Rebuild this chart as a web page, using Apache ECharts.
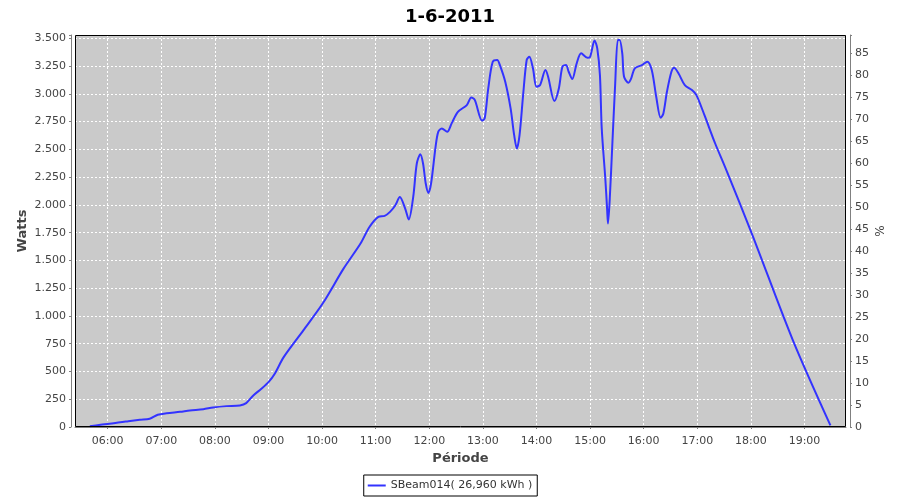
<!DOCTYPE html>
<html><head><meta charset="utf-8">
<script src="https://cdn.jsdelivr.net/npm/echarts@6/dist/echarts.min.js"></script>
<style>html,body{margin:0;padding:0;background:#fff}#c{width:900px;height:500px}</style>
</head><body><div id="c"></div>
<script>
// ---- data ----
const chartTitle = '1-6-2011';
const seriesName = 'SBeam014( 26,960 kWh )';
const times = ['05:40','05:52','06:02','06:14','06:23','06:36','06:47','06:56','07:06','07:21','07:32','07:47','07:58','08:13','08:28','08:35','08:43','08:52','09:00','09:07','09:17','09:39','10:01','10:24','10:43','10:53','11:03','11:10','11:16','11:22','11:27','11:33','11:37','11:42','11:46','11:50','11:53','11:56','11:59','12:02','12:07','12:10','12:14','12:20','12:25','12:32','12:42','12:47','12:51','12:59','13:02','13:06','13:11','13:16','13:19','13:25','13:31','13:35','13:38','13:41','13:45','13:49','13:52','13:56','14:00','14:04','14:10','14:13','14:20','14:25','14:29','14:33','14:36','14:40','14:45','14:50','14:57','15:00','15:05','15:08','15:11','15:13','15:17','15:19','15:20','15:22','15:25','15:28','15:31','15:33','15:36','15:38','15:43','15:46','15:50','15:58','16:04','16:09','16:14','16:19','16:22','16:26','16:31','16:34','16:39','16:46','16:54','16:59','17:08','17:20','17:31','18:01','18:47','19:29'];
const watts = [7,20,29,43,52,65,74,110,124,137,149,160,176,188,194,215,284,344,404,480,629,870,1116,1426,1652,1801,1892,1901,1937,1997,2072,1967,1868,2072,2373,2457,2373,2193,2108,2193,2523,2658,2689,2658,2734,2838,2899,2968,2944,2760,2779,3050,3289,3305,3259,3109,2869,2628,2508,2628,2989,3305,3334,3230,3064,3079,3214,3154,2935,3049,3244,3259,3199,3133,3275,3365,3325,3334,3480,3410,3169,2689,2238,1967,1832,2057,2568,3079,3485,3485,3365,3154,3100,3139,3230,3259,3289,3214,2974,2784,2824,3019,3199,3235,3184,3079,3034,2989,2808,2553,2342,1742,780,14];
const xMinTime = '05:23:24';
const xMaxTime = '19:46:26';
const wattsMax = 3530, wattsStep = 250;
const pctMax = 89.2, pctStep = 5;

function toMs(s){ const p = s.split(':').map(Number); return new Date(2011,5,1,p[0],p[1],p[2]||0).getTime(); }
function pad(n){ return (n<10?'0':'')+n; }
function fmtWatts(v){ if (v % wattsStep !== 0) return ''; const s = String(v); return s.length>3 ? s.slice(0,-3)+'.'+s.slice(-3) : s; }

const FONT = 'DejaVu Sans';
const gray = '#808080';
const labelColor = '#444444';

const chart = echarts.init(document.getElementById('c'), null, {renderer:'canvas'});
chart.setOption({
  animation: false,
  backgroundColor: '#ffffff',
  title: { text: chartTitle, left: 'center', top: 3,
    textStyle: { fontFamily: FONT, fontSize: 18, fontWeight: 'bold', color: '#000' } },
  legend: { data: [seriesName], left: 'center', top: 475, padding: [5,5,5,4],
    borderColor: '#000', borderWidth: 1, icon: 'rect', itemWidth: 18, itemHeight: 2,
    textStyle: { fontFamily: FONT, fontSize: 11, color: '#333' } },
  grid: { left: 75, right: 54, top: 35, bottom: 73, show: true, backgroundColor: '#cacaca', borderWidth: 0 },
  xAxis: { type: 'time', min: toMs(xMinTime), max: toMs(xMaxTime), minInterval: 3600000, maxInterval: 3600000,
    offset: 4,
    axisLine: { show: true, lineStyle: { color: gray } },
    axisTick: { show: true, length: 2, lineStyle: { color: gray } },
    axisLabel: { fontFamily: FONT, fontSize: 11, color: labelColor, margin: 5, hideOverlap: false,
      formatter: function(v){ const d = new Date(v); return d.getMinutes()===0 && d.getSeconds()===0 ? pad(d.getHours())+':00' : ''; } },
    splitLine: { show: true, lineStyle: { color: '#ffffff', type: [2,2], width: 1 } },
    name: 'Période', nameLocation: 'middle', nameGap: 21, nameMoveOverlap: false,
    nameTextStyle: { fontFamily: FONT, fontSize: 13, fontWeight: 'bold', color: labelColor } },
  yAxis: [
    { type: 'value', min: 0, max: wattsMax, interval: wattsStep, offset: 4,
      axisLine: { show: true, lineStyle: { color: gray } },
      axisTick: { show: true, length: 2, lineStyle: { color: gray } },
      axisLabel: { fontFamily: FONT, fontSize: 11, color: labelColor, margin: 5, formatter: fmtWatts },
      splitLine: { show: true, lineStyle: { color: '#ffffff', type: [2,2], width: 1 } },
      name: 'Watts', nameLocation: 'middle', nameGap: 42, nameMoveOverlap: false,
      nameTextStyle: { fontFamily: FONT, fontSize: 13, fontWeight: 'bold', color: labelColor } },
    { type: 'value', position: 'right', min: 0, max: pctMax, interval: pctStep, offset: 4,
      axisLine: { show: true, lineStyle: { color: gray } },
      axisTick: { show: true, length: 2, lineStyle: { color: gray } },
      axisLabel: { fontFamily: FONT, fontSize: 11, color: labelColor, margin: 5,
        formatter: function(v){ return (Math.abs(v - Math.round(v)) < 1e-9 && Math.round(v) % pctStep === 0) ? String(Math.round(v)) : ''; } },
      splitLine: { show: false },
      name: '%', nameLocation: 'middle', nameGap: 25, nameMoveOverlap: false,
      nameTextStyle: { fontFamily: FONT, fontSize: 12, color: labelColor } }
  ],
  graphic: [{ type: 'rect', z: 100, silent: true,
    shape: { x: 75.5, y: 35.5, width: 770, height: 391 },
    style: { fill: 'none', stroke: '#000', lineWidth: 1 } }],
  series: [{ name: seriesName, type: 'line', yAxisIndex: 0, symbol: 'none', showSymbol: false,
    smooth: 0.3, lineStyle: { color: '#3333ff', width: 2 }, itemStyle: { color: '#3333ff' },
    data: times.map(function(t,i){ return [toMs(t), watts[i]]; }) }]
});
</script></body></html>
